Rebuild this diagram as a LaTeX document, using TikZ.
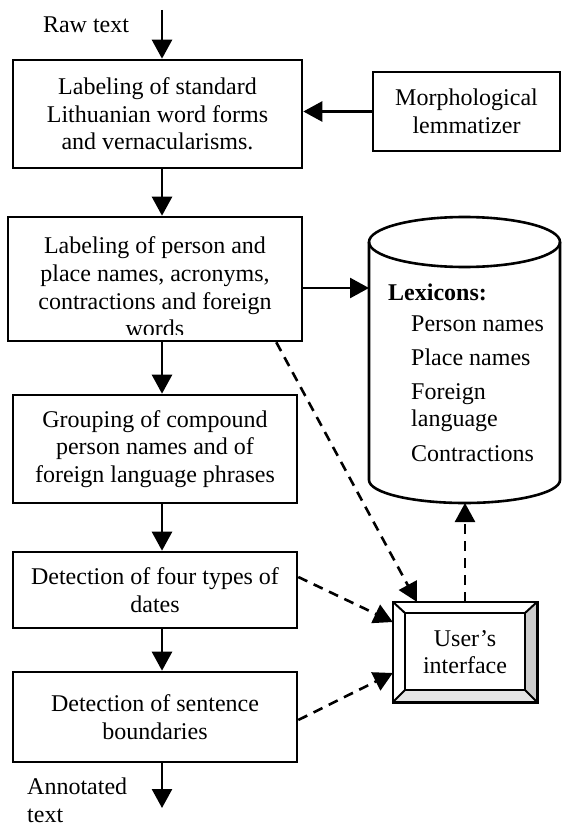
\documentclass[tikz,border=0pt]{standalone}
\usepackage{fontspec}
\setmainfont{Liberation Serif}
\usetikzlibrary{arrows.meta}

\tikzset{
  stage/.style={draw, line width=2.6pt, align=center, inner sep=0pt},
  flow/.style={line width=2.6pt, -{Triangle[width=20pt,length=19pt]}},
  dep/.style={flow, dash pattern=on 10pt off 7pt},
}

\begin{document}
\begin{tikzpicture}[x=1pt, y=-1pt, font=\fontsize{24}{27.6}\selectfont]
\useasboundingbox (0,0) rectangle (562,829);

\node (raw) at (86,25) {Raw text};
\coordinate (in) at (162,10);
\coordinate (out) at (162,808);

\node[stage, minimum width=289pt, minimum height=108pt] (label) at (157.5,114)
  {Labeling of standard\\Lithuanian word forms\\and vernacularisms.};
\node[stage, minimum width=187pt, minimum height=79pt] (morph) at (466.5,111.5)
  {Morphological\\lemmatizer};

% the last line runs into the border
\node[stage, minimum width=294pt, minimum height=124pt] (names) at (155,279) {};
\begin{scope}
  \clip (names.north west) rectangle ([yshift=8pt]names.south east);
  \node[align=center, inner sep=0pt] (namestxt) at (155,287)
    {Labeling of person and\\place names, acronyms,\\contractions and foreign\\words};
\end{scope}

\node[stage, minimum width=284pt, minimum height=108pt] (group) at (155,449)
  {Grouping of compound\\person names and of\\foreign language phrases};
\node[stage, minimum width=284pt, minimum height=76pt] (dates) at (155,590)
  {Detection of four types of\\dates};
\node[stage, minimum width=284pt, minimum height=90pt] (bounds) at (155,717)
  {Detection of sentence\\boundaries};

\node[align=left, anchor=west, inner sep=0pt] (outlbl) at (27,800) {Annotated\\text};

% lexicon store
\draw[line width=2.6pt] (369,242) -- (369,480)
  arc[start angle=180, end angle=360, x radius=95.5pt, y radius=23pt] -- (560,242);
\draw[line width=2.6pt] (464.5,242) ellipse[x radius=95.5pt, y radius=25pt];
\coordinate (lexleft) at (369,288);
\coordinate (lexbottom) at (465,503);
\node[anchor=west, inner sep=0pt] (lexhead) at (388,292) {\textbf{Lexicons:}};
\node[align=left, anchor=north west, inner sep=0pt] (lexitems) at (411,316)
  {Person names\\[6pt]Place names\\[6pt]Foreign\\language\\[7pt]Contractions};

% user's interface
\node[minimum width=144pt, minimum height=100pt, align=center, inner sep=0pt] (ui) at (465,652)
  {User’s\\interface};
\coordinate (uiin1) at (405,613);
\coordinate (uiin2) at (525,690);
\fill[gray!20] (ui.south west) -- (ui.south east) -- (uiin2) -- (uiin1 |- uiin2) -- cycle;
\fill[gray!40] (ui.south east) -- (ui.north east) -- (uiin1 -| uiin2) -- (uiin2) -- cycle;
\draw[line width=2.6pt] (ui.south west) rectangle (ui.north east) (uiin1) rectangle (uiin2);
\draw[line width=2pt] (ui.north west) -- (uiin1) (ui.south east) -- (uiin2)
  (ui.north east) -- (uiin1 -| uiin2) (ui.south west) -- (uiin1 |- uiin2);

% connectors
\draw[flow] (in) -- (label.north -| in);
\draw[flow] (morph.west) -- (morph.west -| label.east);
\draw[flow] (label.south -| in) -- (names.north -| in);
\draw[flow] ([yshift=-9pt]names.east) -- (lexleft);
\draw[flow] (names.south -| in) -- (group.north -| in);
\draw[flow] (group.south -| in) -- (dates.north -| in);
\draw[flow] (dates.south -| in) -- (bounds.north -| in);
\draw[flow] (bounds.south -| in) -- (out);

\draw[dep] ([xshift=-27pt]names.south east) -- ([xshift=24pt]ui.north west);
\draw[dep] ([yshift=13pt]dates.east) -- ([yshift=30pt]ui.west);
\draw[dep] ([yshift=-3pt]bounds.east) -- ([yshift=-21pt]ui.west);
\draw[dep] (ui.north) -- (lexbottom);

\end{tikzpicture}
\end{document}
